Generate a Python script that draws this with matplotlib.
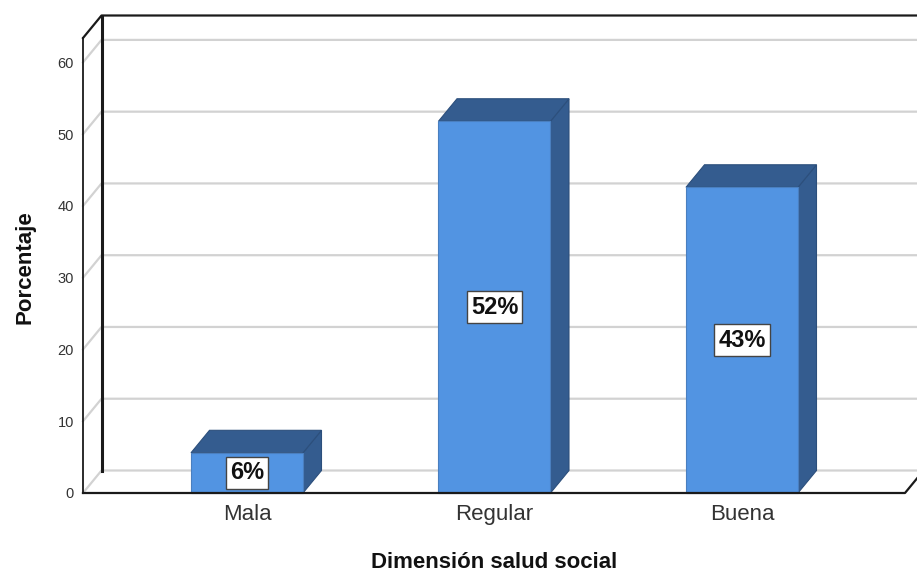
import matplotlib
matplotlib.use("Agg")
import matplotlib.pyplot as plt
from matplotlib.patches import Polygon, Rectangle

plt.rcParams['font.family'] = ['Liberation Sans', 'DejaVu Sans']

categories = ['Mala', 'Regular', 'Buena']
values = [5.6, 51.8, 42.6]
labels = ['6%', '52%', '43%']
yticks = [0, 10, 20, 30, 40, 50, 60]

W, H = 917, 574
fig = plt.figure(figsize=(W / 100, H / 100), dpi=100)
left_px, right_px, bottom_px, top_px = 83, 905, 493, 38
ax = fig.add_axes([left_px / W, 1 - bottom_px / H,
                   (right_px - left_px) / W, (bottom_px - top_px) / H])
ymax = 63.4
xmin, xmax = -0.6626, 2.6586
ax.set_xlim(xmin, xmax)
ax.set_ylim(0, ymax)
px_x = (right_px - left_px) / (xmax - xmin)
px_y = (bottom_px - top_px) / ymax
dx = 18.5 / px_x
dy = 22.5 / px_y
bw = 112 / px_x

grid_c = '#d2d2d2'
for v in yticks:
    ax.plot([xmin, xmin + dx, xmax + 2 * dx], [v, v + dy, v + dy],
            color=grid_c, lw=1.6, clip_on=False, zorder=1)

edge = '#1a1a1a'
# back wall top and left edges
ax.plot([xmin, xmin + dx, xmax + 2 * dx], [ymax, ymax + dy, ymax + dy],
        color=edge, lw=1.6, clip_on=False, zorder=2)
ax.plot([xmin + dx, xmin + dx], [dy, ymax + dy], color=edge, lw=2.2,
        clip_on=False, zorder=2)
ax.plot([xmin, xmin], [0, ymax], color=edge, lw=1.3, clip_on=False, zorder=2)

front_c = '#5294e2'
dark_c = '#345c8f'
for i, v in enumerate(values):
    x0, x1 = i - bw / 2, i + bw / 2
    side = Polygon([(x1, 0), (x1 + dx, dy), (x1 + dx, v + dy), (x1, v)],
                   closed=True, facecolor=dark_c, edgecolor='#2c4f7c', lw=0.8,
                   clip_on=False, zorder=3)
    top = Polygon([(x0, v), (x0 + dx, v + dy), (x1 + dx, v + dy), (x1, v)],
                  closed=True, facecolor=dark_c, edgecolor='#2c4f7c', lw=0.8,
                  clip_on=False, zorder=3)
    front = Rectangle((x0, 0), bw, v, facecolor=front_c, edgecolor='#4a7fbf',
                      lw=0.8, clip_on=False, zorder=4)
    ax.add_patch(side)
    ax.add_patch(top)
    ax.add_patch(front)
    ax.text(i, v / 2, labels[i], ha='center', va='center', fontsize=17,
            fontweight='bold', color='#111111', zorder=6,
            bbox=dict(boxstyle='square,pad=0.18', facecolor='white',
                      edgecolor='#444444', lw=1.0))

# floor front edges
ax.plot([xmin, xmax, xmax + dx], [0, 0, dy], color=edge, lw=1.6,
        clip_on=False, zorder=5)

for s in ax.spines.values():
    s.set_visible(False)
ax.set_yticks(yticks)
ax.set_yticklabels([str(t) for t in yticks])
ax.set_xticks(range(len(categories)))
ax.set_xticklabels(categories)
ax.tick_params(axis='y', length=0, pad=6.5, labelsize=10.5, labelcolor='#333333')
ax.tick_params(axis='x', length=0, pad=8, labelsize=16, labelcolor='#333333')
ax.patch.set_visible(False)

ax.set_xlabel('Dimensión salud social', fontsize=16, fontweight='bold',
              color='#111111', va='center')
ax.xaxis.set_label_coords((494 - left_px) / (right_px - left_px),
                          (bottom_px - 563) / (bottom_px - top_px))
ax.set_ylabel('Porcentaje', fontsize=16, fontweight='bold', color='#111111',
              va='center')
ax.yaxis.set_label_coords((25 - left_px) / (right_px - left_px),
                          (bottom_px - 267) / (bottom_px - top_px))

fig.savefig('out.png', dpi=100)
